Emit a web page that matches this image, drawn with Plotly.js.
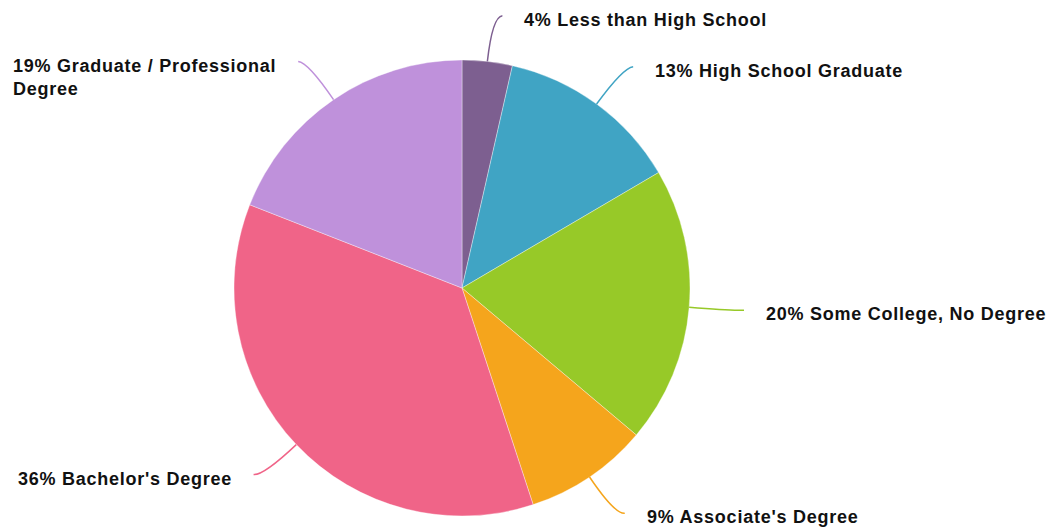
<!DOCTYPE html>
<html>
<head>
<meta charset="utf-8">
<script src="https://cdn.plot.ly/plotly-3.0.1.min.js"></script>
<style>html,body{margin:0;padding:0;background:#fff;}#chart{width:1052px;height:531px;}
#chart .annotation-text{letter-spacing:0.75px;}</style>
</head>
<body>
<div id="chart"></div>
<script>
// ---- data ----
const categories = ["Less than High School", "High School Graduate", "Some College, No Degree", "Associate's Degree", "Bachelor's Degree", "Graduate / Professional Degree"];
const shares = [3.55, 13.0, 19.6, 8.8, 36.0, 19.05];
const sliceColors = ["#7d5f90", "#40a4c4", "#97c928", "#f5a51c", "#f06488", "#bf91db"];

// ---- layout constants ----
const W = 1052, H = 531;
const CX = 462, CY = 288, R = 228;
const FONT = 18, LINE_H = FONT * 1.3, SPACING = 0.75;

const total = shares.reduce((a, b) => a + b, 0);
const shapes = [], annotations = [];
const px2x = x => x / W, px2y = y => 1 - y / H;

let cum = 0;
shares.forEach((v, i) => {
  const mid = (cum + v / 2) / total * 2 * Math.PI;
  cum += v;
  const sx = Math.sin(mid), sy = -Math.cos(mid);
  const p0 = [CX + R * sx, CY + R * sy];
  const c = [CX + (R + 45) * sx, CY + (R + 45) * sy];
  const side = sx >= 0 ? 1 : -1;
  const p2 = [c[0] + side * 10, c[1] - 1];
  shapes.push({
    type: "path", xref: "paper", yref: "paper",
    path: `M ${px2x(p0[0])} ${px2y(p0[1])} Q ${px2x(c[0])} ${px2y(c[1])} ${px2x(p2[0])} ${px2y(p2[1])}`,
    line: {color: sliceColors[i], width: 1.5}
  });
  const pct = Math.round(v / total * 100);
  let txt = pct + "% " + categories[i];
  let parts = [txt];
  if (txt.length > 30) {
    const cut = txt.lastIndexOf(" ", 28);
    parts = [txt.slice(0, cut), txt.slice(cut + 1)];
    txt = parts.join("<br>");
  }
  const maxLen = Math.max(...parts.map(p => p.length));
  const ty = p2[1] + 4 + (parts.length - 1) * LINE_H / 2;
  const tx = side > 0 ? p2[0] + 20 : p2[0] - 20 - SPACING * maxLen;
  annotations.push({
    xref: "paper", yref: "paper",
    x: px2x(tx), y: px2y(ty),
    xanchor: side > 0 ? "left" : "right", yanchor: "middle",
    align: "left", showarrow: false, text: txt,
    font: {family: "Liberation Sans, Arial, sans-serif", size: FONT, color: "#111", weight: "bold"}
  });
});

const trace = {
  type: "pie",
  labels: categories,
  values: shares,
  sort: false,
  direction: "clockwise",
  rotation: 0,
  textinfo: "none",
  hoverinfo: "label+percent",
  marker: {colors: sliceColors, line: {color: "rgba(255,255,255,0.6)", width: 0.6}},
  domain: {x: [(CX - R) / W, (CX + R) / W], y: [(H - CY - R) / H, (H - CY + R) / H]},
  showlegend: false
};

Plotly.newPlot("chart", [trace], {
  width: W, height: H,
  margin: {l: 0, r: 0, t: 0, b: 0},
  paper_bgcolor: "#fff",
  showlegend: false,
  shapes: shapes,
  annotations: annotations
}, {displayModeBar: false, staticPlot: true});
</script>
</body>
</html>
